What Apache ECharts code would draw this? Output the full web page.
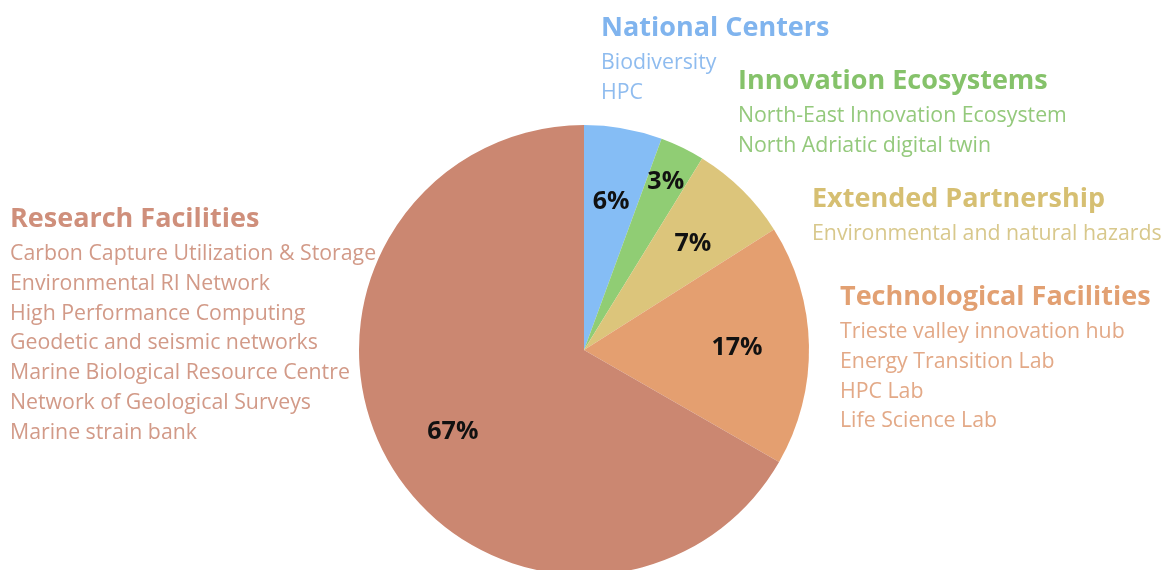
<!DOCTYPE html>
<html><head><meta charset="utf-8">
<script src="https://cdn.jsdelivr.net/npm/echarts@6/dist/echarts.min.js"></script>
<style>html,body{margin:0;padding:0;background:#fff}#c{width:1161px;height:570px}</style>
</head><body><div id="c"></div>
<script>
const categories = ["National Centers", "Innovation Ecosystems", "Extended Partnership", "Technological Facilities", "Research Facilities"];
const values = [5.6, 3.2, 7.2, 17.3, 66.7];
const nationalCenters = ["Biodiversity", "HPC"];
const innovationEcosystems = ["North-East Innovation Ecosystem", "North Adriatic digital twin"];
const extendedPartnership = ["Environmental and natural hazards"];
const technologicalFacilities = ["Trieste valley innovation hub", "Energy Transition Lab", "HPC Lab", "Life Science Lab"];
const researchFacilities = ["Carbon Capture Utilization & Storage", "Environmental RI Network", "High Performance Computing", "Geodetic and seismic networks", "Marine Biological Resource Centre", "Network of Geological Surveys", "Marine strain bank"];

const sliceColors = ["#85bdf5", "#90cd74", "#dcc57b", "#e49f70", "#cb8771"];
const titleColors = ["#80b4ee", "#85c26a", "#d6bf72", "#e2a072", "#cf8f7b"];
const itemColors = ["#8fbcef", "#94c97c", "#d8c88c", "#e3a987", "#d29a88"];
const FONT = "'Open Sans', Lato, sans-serif";

// x = left edge, b = title baseline
const blocks = [
  {i:0, items:nationalCenters, x:601, b:38},
  {i:1, items:innovationEcosystems, x:738, b:91},
  {i:2, items:extendedPartnership, x:812, b:209},
  {i:3, items:technologicalFacilities, x:840, b:307},
  {i:4, items:researchFacilities, x:10, b:229}
];
const graphics = [];
blocks.forEach(b => {
  graphics.push({type:'text', x:b.x, y:b.b-9.6, style:{text:categories[b.i], fill:titleColors[b.i], font:"bold 27px "+FONT, verticalAlign:'middle', align:'left'}});
  b.items.forEach((t,k) => {
    graphics.push({type:'text', x:b.x, y:b.b+32.5+k*29.8-7.6, style:{text:t, fill:itemColors[b.i], font:"21.3px "+FONT, verticalAlign:'middle', align:'left'}});
  });
});

const chart = echarts.init(document.getElementById('c'));
chart.setOption({
  animation:false,
  graphic: graphics,
  series: [{
    type:'pie', center:[584,350], radius:[0,225], startAngle:90, clockwise:true,
    silent:true, label:{show:false}, labelLine:{show:false},
    data: categories.map((n,i)=>({name:n, value:values[i], itemStyle:{color:sliceColors[i]}}))
  },{
    type:'pie', center:[584,350], radius:[79,225], startAngle:90, clockwise:true,
    silent:true, labelLine:{show:false},
    itemStyle:{color:'rgba(0,0,0,0)'},
    label:{show:true, position:'inside', color:'#111', fontFamily:FONT, fontWeight:'bold', fontSize:25, offset:[0,4],
      formatter: p => Math.round(p.value)+'%'},
    data: categories.map((n,i)=>({name:n, value:values[i], label: i===1?{offset:[14,-29]}:(i===4?{offset:[3,4]}:(i===3?{offset:[-2,1]}:{}))}))
  }]
});
</script></body></html>
